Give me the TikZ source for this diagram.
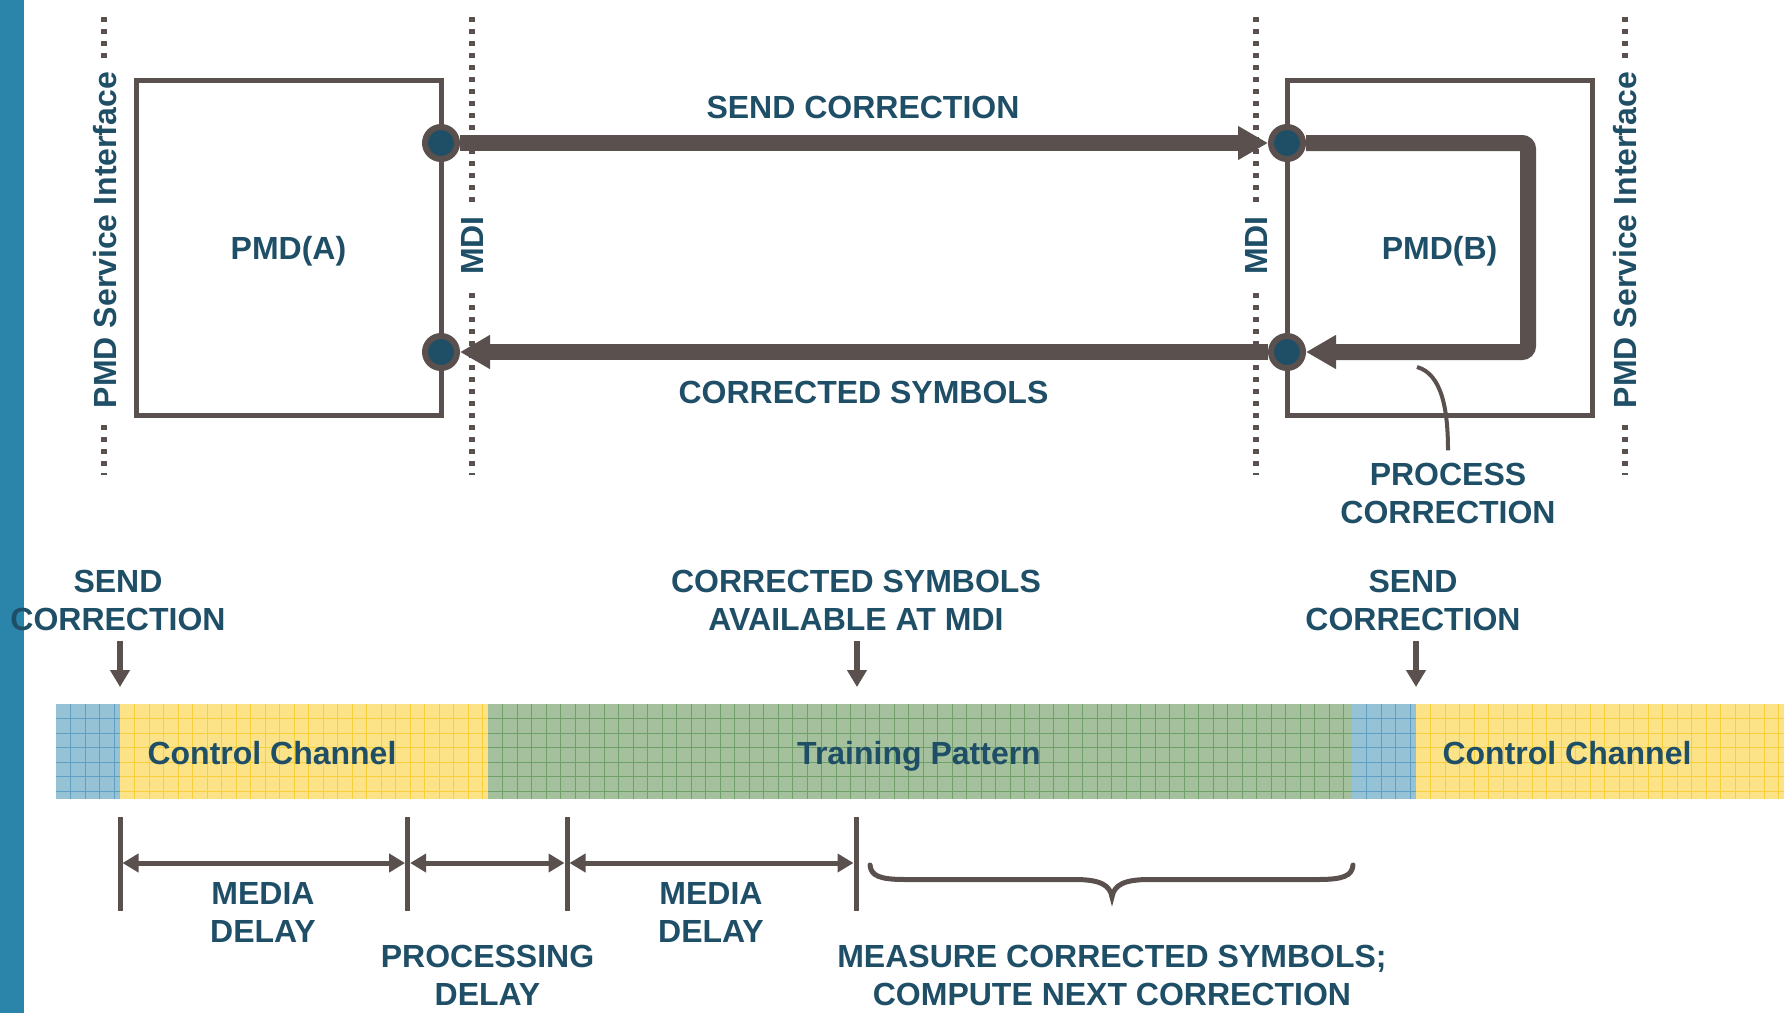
\documentclass[tikz,border=0pt]{standalone}
\usepackage{fontspec}
\setmainfont{Liberation Sans}
\usetikzlibrary{arrows.meta,backgrounds}
\definecolor{txt}{RGB}{31,78,103}
\definecolor{ln}{RGB}{90,80,77}
\definecolor{stripe}{RGB}{43,133,171}
\definecolor{bluefill}{RGB}{150,194,213}
\definecolor{bluegrid}{RGB}{95,160,196}
\definecolor{yelfill}{RGB}{253,227,135}
\definecolor{yelgrid}{RGB}{247,207,60}
\definecolor{grnfill}{RGB}{164,192,157}
\definecolor{grngrid}{RGB}{112,160,106}
\newcommand\barseg[5]{%
  \fill[#3] (#1,704) rectangle (#2,799);
  \begin{scope}
    \clip (#1,704) rectangle (#2,799);
    \foreach \k in {1,...,#5} \draw[#4,line width=0.9pt] ({#1+\k*14.5},704) -- ++(0,95);
    \foreach \k in {1,...,6} \draw[#4,line width=0.9pt] (#1,{704+\k*14.5}) -- (#2,{704+\k*14.5});
  \end{scope}}
\begin{document}
\begin{tikzpicture}[x=1pt,y=-1pt,
  lbl/.style={text=txt,font=\fontsize{32}{38}\selectfont\bfseries,inner sep=0pt,align=center},
  rlbl/.style={lbl,rotate=90,fill=white,inner xsep=11pt,inner ysep=2pt},
  box/.style={draw=ln,line width=5pt,minimum width=305pt,minimum height=335pt,
     text=txt,font=\fontsize{32}{38}\selectfont\bfseries,text height=23pt,text depth=0pt},
  port/.style={circle,draw=ln,fill=txt,line width=6pt,minimum size=32pt,inner sep=0pt},
  dots/.style={draw=ln,line width=5.5pt,dash pattern=on 4.5pt off 7.5pt},
  bigarrow/.style={draw=ln,line width=16pt,-{Triangle[length=30pt,width=32pt]}},
  loopline/.style={draw=ln,line width=16pt,rounded corners=6pt,-{Triangle[length=30pt,width=32pt]}},
  darrow/.style={draw=ln,line width=6pt,-{Triangle[length=17pt,width=19pt]}},
  dimarrow/.style={draw=ln,line width=5pt,{Triangle[length=16pt,width=18pt]}-{Triangle[length=16pt,width=18pt]}},
  tick/.style={draw=ln,line width=5pt},
  brace/.style={draw=ln,line width=5pt,line cap=round},
  callout/.style={draw=ln,line width=4pt}]
\useasboundingbox (0,0) rectangle (1786,1013);
% left stripe
\fill[stripe] (0,0) rectangle (24,1013);

% boxes
\node[box] (pmdA) at (288.5,247.5) {PMD(A)};
\node[box] (pmdB) at (1439.5,247.5) {PMD(B)};

% interface labels
\node[rlbl] (psiL) at (105,240) {PMD Service Interface};
\node[rlbl] (mdiL) at (472,245.5) {MDI};
\node[rlbl] (mdiR) at (1256,245.5) {MDI};
\node[rlbl] (psiR) at (1625,240) {PMD Service Interface};

% ports
\node[port] (a1) at (441,143) {};
\node[port] (a2) at (441,352) {};
\node[port] (b1) at (1287,143) {};
\node[port] (b2) at (1287,352) {};

\coordinate (lc1) at (1528,143);
\coordinate (lc2) at (1528,352);

\begin{scope}[on background layer]
  \draw[dots] (104,17) -- (104,475);
  \draw[dots] (472,17) -- (472,475);
  \draw[dots] (1256,17) -- (1256,475);
  \draw[dots] (1625,17) -- (1625,475);
  \draw[bigarrow] (a1) -- (b1);
  \draw[bigarrow] (b2) -- (a2);
  \draw[loopline] (b1) -- (lc1) -- (lc2) -- (b2);
\end{scope}

\node[lbl,anchor=base] (sendTop) at (863,118.5) {SEND CORRECTION};
\node[lbl,anchor=base] (corrTop) at (863.5,403.3) {CORRECTED SYMBOLS};

\node[lbl] (pc) at (1448,493) {PROCESS\\CORRECTION};
\coordinate (pcTip) at (1417,367);
\draw[callout] ([yshift=12pt]pc.north) .. controls (1448,410) and (1442,374) .. (pcTip);

% timeline labels
\node[lbl] (sendL) at (118,600) {SEND\\CORRECTION};
\node[lbl] (avail) at (856,600.5) {CORRECTED SYMBOLS\\AVAILABLE AT MDI};
\node[lbl] (sendR) at (1413,600.5) {SEND\\CORRECTION};
\coordinate (ar0) at (120,687);
\coordinate (ar1) at (857,687);
\coordinate (ar2) at (1416,687);
\draw[darrow,shorten <=10pt] (sendL.south -| ar0) -- (ar0);
\draw[darrow,shorten <=10pt] (avail.south -| ar1) -- (ar1);
\draw[darrow,shorten <=10pt] (sendR.south -| ar2) -- (ar2);

% bar
\barseg{56}{120}{bluefill}{bluegrid}{5}
\barseg{120}{488}{yelfill}{yelgrid}{26}
\barseg{488}{1352}{grnfill}{grngrid}{60}
\barseg{1352}{1416}{bluefill}{bluegrid}{5}
\barseg{1416}{1784}{yelfill}{yelgrid}{26}
\node[lbl,anchor=base] (cc1) at (272,764) {Control Channel};
\node[lbl,anchor=base] (tp) at (919,764) {Training Pattern};
\node[lbl,anchor=base] (cc2) at (1567,764) {Control Channel};

% dimension lines
\coordinate (t0) at (120,863);
\coordinate (t1) at (407.6,863);
\coordinate (t2) at (567,863);
\coordinate (t3) at (856,863);
\foreach \t in {t0,t1,t2,t3} \draw[tick] (\t) ++(0,-46) -- ++(0,94);
\draw[dimarrow,shorten <=2.5pt,shorten >=2.5pt] (t0) -- (t1);
\draw[dimarrow,shorten <=2.5pt,shorten >=2.5pt] (t1) -- (t2);
\draw[dimarrow,shorten <=2.5pt,shorten >=2.5pt] (t2) -- (t3);

\node[lbl] (md1) at (263,912.5) {MEDIA\\DELAY};
\node[lbl] (pd) at (487.5,975.5) {PROCESSING\\DELAY};
\node[lbl] (md2) at (711,912.5) {MEDIA\\DELAY};

% brace
\draw[brace] (870,865) .. controls (871,876) and (880,879.5) .. (905,879.5) -- (1075,879.5)
  .. controls (1100,879.5) and (1110,885) .. (1112,897)
  .. controls (1114,885) and (1124,879.5) .. (1149,879.5) -- (1318,879.5)
  .. controls (1343,879.5) and (1352,876) .. (1353,865);
\node[lbl] (meas) at (1112,975.5) {MEASURE CORRECTED SYMBOLS;\\COMPUTE NEXT CORRECTION};
\end{tikzpicture}
\end{document}
